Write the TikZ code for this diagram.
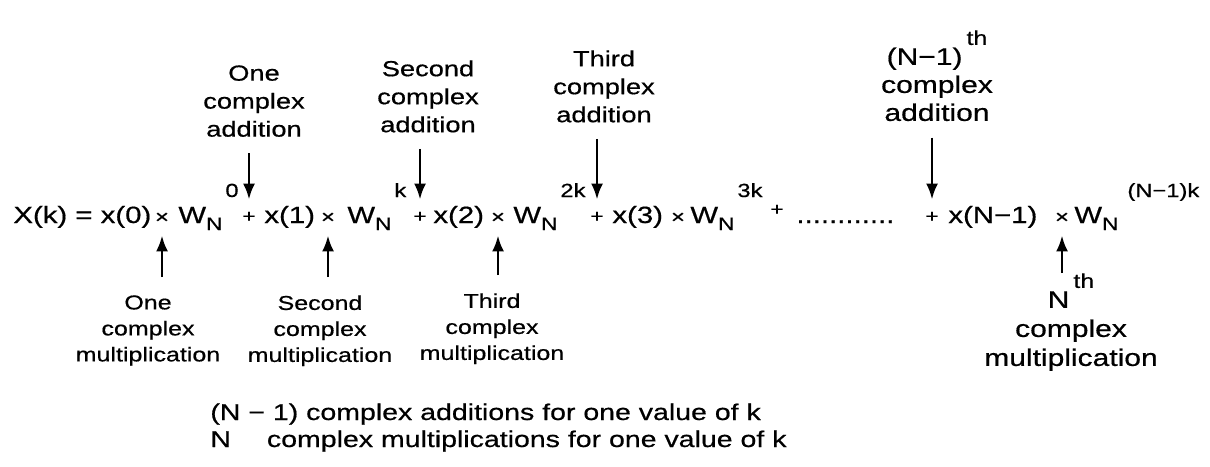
\documentclass[tikz,border=0pt]{standalone}
\usepackage{fontspec}
\setmainfont{Liberation Sans}[FakeStretch=1.25,FakeBold=0.6]
\usetikzlibrary{arrows.meta}

% W_N with a raised exponent
\newcommand{\twiddle}[1]{W\raisebox{-3.5pt}{\fontsize{9}{9}\selectfont N}\hspace{1.5pt}\raisebox{13pt}{\fontsize{9.5}{9}\selectfont #1}}
\newcommand{\thsup}{\hspace{2pt}\raisebox{10pt}{\fontsize{10}{10}\selectfont th}}

\begin{document}
\begin{tikzpicture}[x=0.5pt,y=-0.5pt]
\tikzset{
    eqtext/.style = {anchor=base west, inner sep=0pt, font=\fontsize{11.75}{14}\selectfont},
    timesop/.style = {inner sep=0pt, minimum height=17pt, font=\fontsize{9.5}{10}\selectfont},
    plusop/.style = {inner sep=0pt, minimum height=17pt, font=\fontsize{9}{10}\selectfont},
    addlabel/.style = {anchor=north, inner sep=0pt, align=center, font=\fontsize{10.9}{14}\selectfont},
    mullabel/.style = {anchor=north, inner sep=0pt, align=center, font=\fontsize{10}{13}\selectfont},
    dnarr/.style = {-{Latex[length=8pt,width=6pt]}, line width=1.4pt, shorten <=8pt},
    uparr/.style = {-{Latex[length=8pt,width=6pt]}, line width=1.4pt, shorten <=9pt}
}
\fill[white] (0,0) rectangle (1210,466);
\useasboundingbox (0,0) rectangle (1210,466);

% the sum
\node[eqtext] (lhs) at (13,223) {X(k) = x(0)};
\node[timesop] (m0) at (162,218) {×};
\node[eqtext] (w0) at (178,223) {\twiddle{0}};
\node[plusop] (p1) at (249,217) {+};
\node[eqtext] (x1) at (264,223) {x(1)};
\node[timesop] (m1) at (328,218) {×};
\node[eqtext] (w1) at (347,223) {\twiddle{k}};
\node[plusop] (p2) at (420,217) {+};
\node[eqtext] (x2) at (433,223) {x(2)};
\node[timesop] (m2) at (498,218) {×};
\node[eqtext] (w2) at (513,223) {\twiddle{2k}};
\node[plusop] (p3) at (597,217) {+};
\node[eqtext] (x3) at (612,223) {x(3)};
\node[timesop] (m3) at (678,218) {×};
\node[eqtext] (w3) at (690,223) {\twiddle{3k}};
\node[plusop] (p4) at (777,210) {+};
\node[eqtext] (dots) at (796,223) {............};
\node[plusop] (pN) at (932,217) {+};
\node[eqtext] (xN) at (948,223) {x(N−1)};
\node[timesop] (mN) at (1062,218) {×};
\node[eqtext] (wN) at (1074,223) {\twiddle{\hspace{3pt}(N−1)k}};

% additions above
\node[addlabel] (add1) at (254,65) {One\\complex\\addition};
\node[addlabel] (add2) at (428,60) {Second\\complex\\addition};
\node[addlabel] (add3) at (604,50) {Third\\complex\\addition};
\node[addlabel, font=\fontsize{12}{14}\selectfont] (addN) at (937,30) {(N−1)\thsup\\complex\\addition};

% multiplications below
\node[mullabel] (mul1) at (148,295) {One\\complex\\multiplication};
\node[mullabel] (mul2) at (320,295) {Second\\complex\\multiplication};
\node[mullabel] (mul3) at (492,293) {Third\\complex\\multiplication};
\node[mullabel, font=\fontsize{12}{14.5}\selectfont] (mulN) at (1071,273) {N\thsup\\complex\\multiplication};

\draw[dnarr] (add1.south -| p1) -- (p1.north);
\draw[dnarr] (add2.south -| p2) -- (p2.north);
\draw[dnarr] (add3.south -| p3) -- (p3.north);
\draw[dnarr] (addN.south -| pN) -- (pN.north);

\draw[uparr] (mul1.north -| m0) -- (m0.south);
\draw[uparr] (mul2.north -| m1) -- (m1.south);
\draw[uparr] (mul3.north -| m2) -- (m2.south);
\draw[uparr, shorten <=0pt] (mulN.north -| mN) -- (mN.south);

% totals
\node[eqtext, font=\fontsize{11.4}{13.5}\selectfont] (tot1) at (210,420) {(N − 1) complex additions for one value of k};
\node[eqtext, font=\fontsize{11.4}{13.5}\selectfont] (tot2) at (210,447) {N\hspace{18pt}complex multiplications for one value of k};
\end{tikzpicture}
\end{document}
